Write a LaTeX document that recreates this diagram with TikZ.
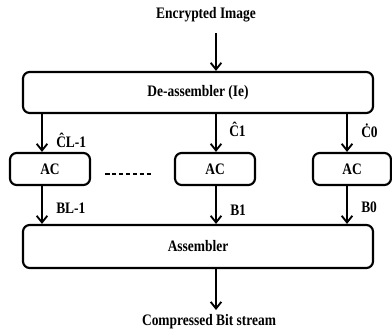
\documentclass[tikz,border=0pt]{standalone}
\usepackage{fontspec}
\newfontfamily\diagfont[FakeStretch=0.84]{Liberation Serif}
\usetikzlibrary{arrows.meta}

\begin{document}
\begin{tikzpicture}[x=0.75pt,y=-0.75pt,
  every node/.style={font=\diagfont\bfseries\fontsize{12}{14}\selectfont},
  blockbox/.style={draw,line width=1.6pt,rounded corners=5pt,inner sep=0pt},
  arr/.style={line width=1.4pt,-{Straight Barb[length=5pt,width=8pt,line width=1.4pt]}},
  lbl/.style={anchor=base west,inner sep=0pt}]
  \useasboundingbox (0,0) rectangle (392,331);

  % Input and de-assembler
  \node (inp) at (206,15) {Encrypted Image};
  \node[blockbox,minimum width=350*0.75pt,minimum height=41*0.75pt] (deasm) at (198,92.5) {De-assembler (Ie)};

  % Arithmetic coders
  \node[blockbox,minimum width=80*0.75pt,minimum height=32*0.75pt] (acl) at (50,169) {AC};
  \node[blockbox,minimum width=80*0.75pt,minimum height=32*0.75pt] (acm) at (215,169) {AC};
  \node[blockbox,minimum width=78*0.75pt,minimum height=32*0.75pt] (acr) at (352,169) {AC};
  \draw[line width=2pt,dash pattern=on 3.4pt off 1.8pt] (105,174) -- (151,174);

  % Assembler and output
  \node[blockbox,minimum width=350*0.75pt,minimum height=43*0.75pt] (asm) at (198,246.5) {Assembler};
  \node (outp) at (209,322) {Compressed Bit stream};

  % Columns of arrows
  \coordinate (cl) at (42,0);
  \coordinate (cm) at (216,0);
  \coordinate (cr) at (347,0);

  \draw[arr] (inp.south -| cm) ++(0,6) -- (deasm.north -| cm);
  \draw[arr] (deasm.south -| cl) -- (acl.north -| cl);
  \draw[arr] (deasm.south -| cm) -- (acm.north -| cm);
  \draw[arr] (deasm.south -| cr) -- (acr.north -| cr);
  \draw[arr] (acl.south -| cl) -- (asm.north -| cl);
  \draw[arr] (acm.south -| cm) -- (asm.north -| cm);
  \draw[arr] (acr.south -| cr) -- (asm.north -| cr);
  \draw[arr] (asm.south -| cm) -- (outp.north -| cm);

  % Labels
  \node[lbl] (cl1) at (56,148) {ĈL-1};
  \node[lbl] (c1) at (229,137) {Ĉ1};
  \node[lbl] (c0) at (361,138) {Ċ0};
  \node[lbl] (bl1) at (56,214) {BL-1};
  \node[lbl] (b1) at (230,215) {B1};
  \node[lbl] (b0) at (361,213) {B0};
\end{tikzpicture}
\end{document}
